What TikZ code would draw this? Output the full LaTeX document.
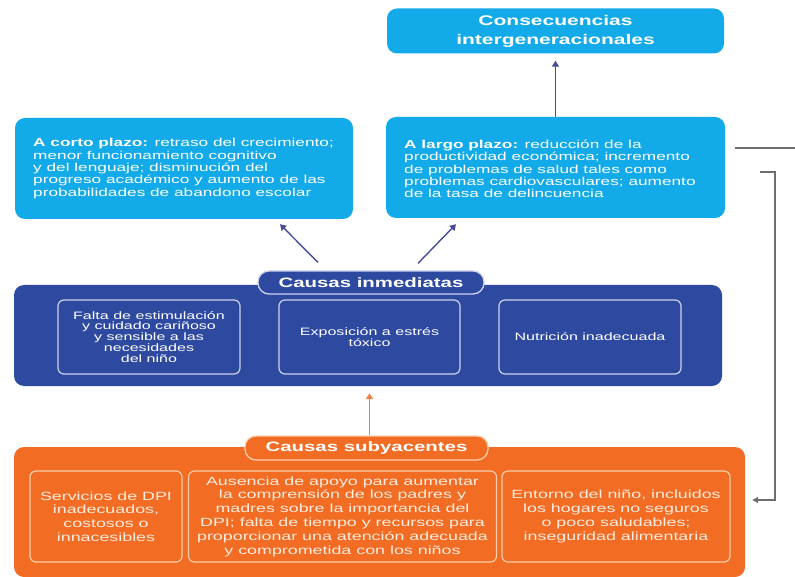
\documentclass[tikz,border=0pt]{standalone}
\usepackage{fontspec}
\setmainfont{Liberation Sans}[FakeStretch=1.5]
\usetikzlibrary{arrows.meta,calc}
\definecolor{lblue}{RGB}{18,170,232}
\definecolor{dblue}{RGB}{46,74,160}
\definecolor{lav}{RGB}{205,210,238}
\definecolor{orng}{RGB}{242,108,36}
\definecolor{peach}{RGB}{250,205,170}
\definecolor{otext}{RGB}{255,236,222}
\definecolor{arrblue}{RGB}{72,76,150}
\definecolor{arrorange}{RGB}{240,128,70}
\definecolor{gline}{RGB}{110,110,110}
\tikzset{
  lbox/.style={fill=lblue,rounded corners=10pt,inner sep=0pt,text=white},
  dbox/.style={fill=dblue,rounded corners=10pt,inner sep=0pt},
  obox/.style={fill=orng,rounded corners=10pt,inner sep=0pt},
  ibox/.style={draw=lav,line width=1.2pt,rounded corners=6pt,inner sep=0pt,text=white,align=center,
    font={\fontsize{10.7}{10.9}\selectfont}},
  oibox/.style={draw=peach,line width=1.2pt,rounded corners=6pt,inner sep=0pt,text=otext,align=center,
    font={\fontsize{11.9}{13.8}\selectfont}},
  tabbox/.style={draw=lav,line width=1.3pt,rounded corners=11pt,inner sep=0pt,text=white,
    font={\bfseries\fontsize{13.6}{15}\selectfont}},
  bodytext/.style={text=white,align=left,inner sep=0pt,font={\fontsize{11.5}{12.4}\selectfont}},
  barr/.style={draw=arrblue,line width=1.4pt,-{Triangle[width=7pt,length=6pt]}},
  oarr/.style={draw=arrorange,line width=1.4pt,-{Triangle[width=7pt,length=6pt]}},
  garr/.style={draw=gline,line width=1.3pt,-{Triangle[width=6pt,length=6pt]}},
}
\begin{document}
\begin{tikzpicture}[x=1pt,y=-1pt]
\useasboundingbox (0,0) rectangle (795,577);
% top row
\node[lbox,minimum width=337pt,minimum height=45pt,align=center,
  font={\bfseries\fontsize{14}{19}\selectfont}] (cons) at (555.5,31)
  {Consecuencias\\intergeneracionales};
\node[lbox,minimum width=338pt,minimum height=101pt] (short) at (184,168.5) {};
\node[bodytext,anchor=west] (shorttxt) at (33,168.5)
  {\textbf{A corto plazo:} retraso del crecimiento;\\menor funcionamiento cognitivo\\y del lenguaje; disminución del\\progreso académico y aumento de las\\probabilidades de abandono escolar};
\node[lbox,minimum width=339pt,minimum height=101pt] (long) at (555.5,167.5) {};
\node[bodytext,anchor=west] (longtxt) at (404,169)
  {\textbf{A largo plazo:} reducción de la\\productividad económica; incremento\\de problemas de salud tales como\\problemas cardiovasculares; aumento\\de la tasa de delincuencia};
% immediate causes
\node[dbox,minimum width=708pt,minimum height=101pt] (inm) at (368,335.5) {};
\node[tabbox,fill=dblue,minimum width=226pt,minimum height=23pt] (tabinm) at (371,282.5) {Causas inmediatas};
\node[ibox,minimum width=182pt,minimum height=74pt] (i1) at (149,337)
  {Falta de estimulación\\y cuidado cariñoso\\y sensible a las\\necesidades\\del niño};
\node[ibox,minimum width=181pt,minimum height=74pt] (i2) at (369.5,337)
  {Exposición a estrés\\tóxico};
\node[ibox,minimum width=182pt,minimum height=74pt] (i3) at (590,337)
  {Nutrición inadecuada};
% underlying causes
\node[obox,minimum width=731pt,minimum height=130pt] (sub) at (379.5,512) {};
\node[tabbox,draw=peach,fill=orng,minimum width=243pt,minimum height=24pt] (tabsub) at (366.5,448) {Causas subyacentes};
\node[oibox,minimum width=152pt,minimum height=91pt] (o1) at (106,516.5)
  {Servicios de DPI\\inadecuados,\\costosos o\\innacesibles};
\node[oibox,minimum width=308pt,minimum height=91pt] (o2) at (342.5,516.5)
  {Ausencia de apoyo para aumentar\\la comprensión de los padres y\\madres sobre la importancia del\\DPI; falta de tiempo y recursos para\\proporcionar una atención adecuada\\y comprometida con los niños};
\node[oibox,minimum width=228pt,minimum height=91pt] (o3) at (616,516.5)
  {Entorno del niño, incluidos\\los hogares no seguros\\o poco saludables;\\inseguridad alimentaria};
% connectors
\draw[barr] (long.north) -- ($(cons.south)+(0,7)$);
\coordinate (a1s) at ($(tabinm.north)+(-53,-8)$);
\coordinate (a1e) at ($(short.south)+(96,5)$);
\coordinate (a2s) at ($(tabinm.north)+(47,-7)$);
\coordinate (a2e) at ($(long.south)+(-99.5,6)$);
\draw[barr] (a1s) -- (a1e);
\draw[barr] (a2s) -- (a2e);
\draw[oarr] (tabsub.north -| i2.south) -- ($(inm.south -| i2.south)+(0,7)$);
\coordinate (g1s) at ($(long.east)+(10,-19.5)$);
\coordinate (g1e) at (795,148);
\draw[gline,line width=1.3pt] (g1s) -- (g1e);
\coordinate (g2s) at ($(long.east)+(35,4.5)$);
\coordinate (g2c) at (775,172);
\coordinate (g2e) at ($(sub.east)+(7,-12)$);
\draw[garr] (g2s) -- (g2c) |- (g2e);
\end{tikzpicture}
\end{document}
